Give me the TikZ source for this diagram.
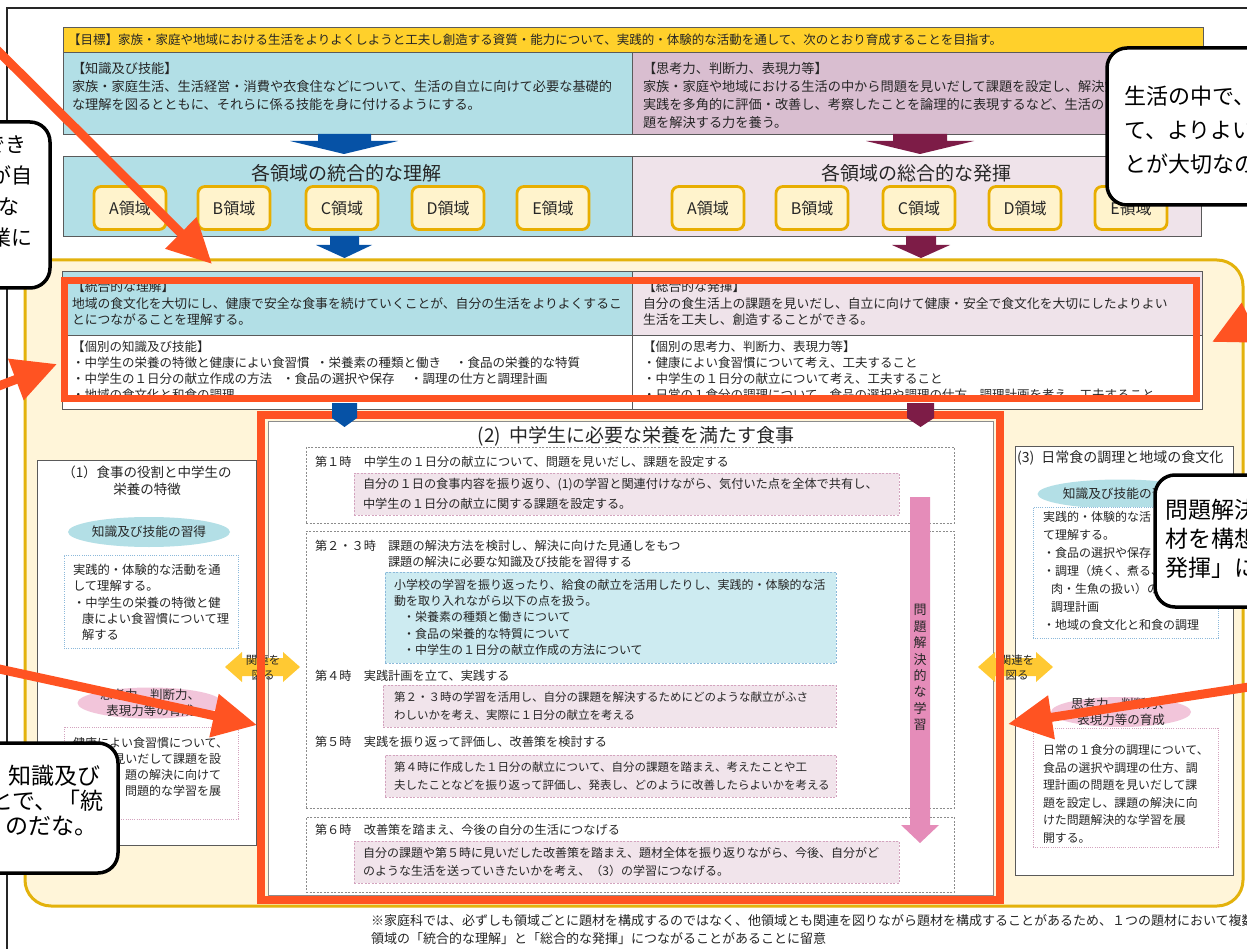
\documentclass[tikz,border=0pt]{standalone}
\usepackage{fontspec}
\setmainfont{Noto Sans CJK JP}
\usetikzlibrary{shapes.geometric,arrows.meta}
\definecolor{goalY}{HTML}{FFD02B}
\definecolor{knowB}{HTML}{B2DFE6}
\definecolor{thinkM}{HTML}{D9BED0}
\definecolor{hakkiP}{HTML}{EFE3EA}
\definecolor{subF}{HTML}{FFF3CC}
\definecolor{subD}{HTML}{E8AE00}
\definecolor{arrB}{HTML}{0652A6}
\definecolor{arrM}{HTML}{7D1C47}
\definecolor{creamF}{HTML}{FFF5D9}
\definecolor{creamD}{HTML}{E3B20C}
\definecolor{redO}{HTML}{FF5322}
\definecolor{pinkF}{HTML}{F1E4EB}
\definecolor{pinkD}{HTML}{D3A3BE}
\definecolor{cyanF}{HTML}{CDEBF1}
\definecolor{cyanD}{HTML}{8CB9DA}
\definecolor{ellB}{HTML}{B3DFE6}
\definecolor{ellP}{HTML}{F2C5DA}
\definecolor{arrP}{HTML}{E58CB9}
\definecolor{dblY}{HTML}{FFC933}
\definecolor{grayD}{HTML}{5A5A5A}
\definecolor{grayL}{HTML}{8C8C8C}
\definecolor{txt}{HTML}{262626}
\newcommand\fz[1]{\fontsize{#1}{#1}\selectfont}
\newcommand\sst{\vrule height .88em depth .12em width 0pt}
\newcommand\TL[7]{\foreach \myt [count=\myi] in {#7}{\node[anchor=#2,inner sep=0pt,outer sep=0pt,font=\fz{#6},text=txt] (#1-\myi) at (#3,{#4+(\myi-1)*(#5)}) {\sst\myt};}}
\newcommand\BX[6]{\node[#6,anchor=north west,inner sep=0pt,outer sep=0pt,minimum width={#4-(#2)},minimum height={#5-(#3)}] (#1) at (#2,#3) {};}
\tikzset{
  cell/.style={draw=grayD,line width=0.8pt},
  sub/.style={draw=subD,fill=subF,line width=2.8pt,rounded corners=7pt,minimum width=72pt,minimum height=43pt,inner sep=0pt,font=\fz{16},text=txt},
  gdash/.style={draw=grayL,line width=0.7pt,dash pattern=on 2pt off 1.5pt,fill=white},
  pbox/.style={fill=pinkF,draw=pinkD,line width=0.7pt,dash pattern=on 2pt off 1.5pt},
  cbox/.style={fill=cyanF,draw=cyanD,line width=0.7pt,dash pattern=on 2pt off 1.5pt},
  cdot/.style={fill=white,draw=cyanD,line width=0.8pt,dash pattern=on 1pt off 1.2pt},
  pdot/.style={fill=white,draw=pinkD,line width=0.8pt,dash pattern=on 1pt off 1.2pt},
  redA/.style={draw=redO,line width=9pt,-{Triangle[length=44pt,width=42pt]}},
  callout/.style={fill=white,draw=black,line width=3.5pt,rounded corners=20pt},
  ctext/.style={inner sep=0pt,text=black}
}
\begin{document}
\begin{tikzpicture}[x=1pt,y=-1pt]
\useasboundingbox (0,0) rectangle (1247,949);
\clip (0,0) rectangle (1247,949);
\fill[white] (0,0) rectangle (1247,949);
% outer frame
\draw[line width=1.3pt,black!85] (7,960) -- (7,8) -- (1260,8);
% goal
\BX{goal}{63}{27}{1203}{52}{fill=goalY,cell}
\TL{goalt}{west}{68}{40}{0}{12.5}{【目標】家族・家庭や地域における生活をよりよくしようと工夫し創造する資質・能力について、実践的・体験的な活動を通して、次のとおり育成することを目指す。}
\BX{know}{63}{52}{632}{134}{fill=knowB,cell}
\BX{think}{632}{52}{1203}{134}{fill=thinkM,cell}
\TL{knowt}{west}{72}{68}{18}{13.2}{【知識及び技能】,家族・家庭生活、生活経営・消費や衣食住などについて、生活の自立に向けて必要な基礎的,な理解を図るとともに、それらに係る技能を身に付けるようにする。}
\TL{thinkt}{west}{643}{68}{18}{13.2}{【思考力、判断力、表現力等】,家族・家庭や地域における生活の中から問題を見いだして課題を設定し、解決策,実践を多角的に評価・改善し、考察したことを論理的に表現するなど、生活の自,題を解決する力を養う。}
% arrows 1
\fill[arrB] (318,134) -- (371,134) -- (371,141) -- (398,141) -- (344,154) -- (290,141) -- (318,141) -- cycle;
\fill[arrM] (893,134) -- (947,134) -- (947,141) -- (974,141) -- (920,154) -- (866,141) -- (893,141) -- cycle;
% domain boxes
\BX{ints}{63}{156}{632}{236}{fill=knowB,cell}
\BX{sogo}{632}{156}{1201}{236}{fill=hakkiP,cell}
\node[inner sep=0pt,font=\fz{19},text=txt] (intst) at (346,173) {\sst 各領域の統合的な理解};
\node[inner sep=0pt,font=\fz{19},text=txt] (sogot) at (916,173) {\sst 各領域の総合的な発揮};
\foreach \ltr/\cx in {A/130,B/234,C/342,D/448,E/553} \node[sub] (l\ltr) at (\cx,208) {\sst\ltr 領域};
\foreach \ltr/\cx in {A/708,B/812,C/919,D/1025,E/1131} \node[sub] (r\ltr) at (\cx,208) {\sst\ltr 領域};
% arrows 2
\fill[arrB] (330,236) -- (359,236) -- (359,245) -- (372,245) -- (344.5,258) -- (316,245) -- (330,245) -- cycle;
\fill[arrM] (906,236) -- (936,236) -- (936,245) -- (950,245) -- (921,258) -- (892,245) -- (906,245) -- cycle;
% cream area
\BX{cream}{25}{260}{1243}{906}{fill=creamF,draw=creamD,line width=3pt,rounded corners=26pt}
% table
\BX{ttl}{62}{271}{632}{335}{fill=knowB,cell}
\BX{ttr}{632}{271}{1202}{335}{fill=hakkiP,cell}
\BX{tbl}{62}{335}{632}{409}{fill=white,cell}
\BX{tbr}{632}{335}{1202}{409}{fill=white,cell}
\TL{ttlt}{west}{72}{287}{16.5}{12.8}{【統合的な理解】,地域の食文化を大切にし、健康で安全な食事を続けていくことが、自分の生活をよりよくするこ,とにつながることを理解する。}
\TL{ttrt}{west}{643}{287}{16.5}{12.8}{【総合的な発揮】,自分の食生活上の課題を見いだし、自立に向けて健康・安全で食文化を大切にしたよりよい,生活を工夫し、創造することができる。}
\TL{tblt}{west}{72}{347}{16}{12.5}{【個別の知識及び技能】,{\makebox[244pt][l]{・中学生の栄養の特徴と健康によい食習慣}\makebox[139pt][l]{・栄養素の種類と働き}・食品の栄養的な特質},{\makebox[210pt][l]{・中学生の１日分の献立作成の方法}\makebox[128pt][l]{・食品の選択や保存}・調理の仕方と調理計画},・地域の食文化と和食の調理}
\TL{tbrt}{west}{643}{347}{16}{12.5}{【個別の思考力、判断力、表現力等】,・健康によい食習慣について考え、工夫すること,・中学生の１日分の献立について考え、工夫すること,・日常の１食分の調理について、食品の選択や調理の仕方、調理計画を考え、工夫すること}
\BX{redt}{64.5}{280.5}{1196.5}{398.5}{draw=redO,line width=7pt}
% left column (1)
\BX{col1}{37}{460}{256}{845}{fill=white,cell}
\TL{c1t}{center}{147}{472}{17}{13.5}{（1）食事の役割と中学生の,栄養の特徴}
\node[ellipse,fill=ellB,minimum width=162pt,minimum height=30pt,inner sep=0pt,font=\fz{12.7},text=txt] (e1b) at (149,532) {\sst 知識及び技能の習得};
\BX{c1b}{64}{555}{238}{648}{cdot}
\TL{c1bt}{west}{73}{570}{16.2}{12.3}{実践的・体験的な活動を通,して理解する。,・中学生の栄養の特徴と健,\hspace*{9pt}康によい食習慣について理,\hspace*{9pt}解する}
\node[ellipse,fill=ellP,minimum width=145pt,minimum height=31pt,inner sep=0pt] (e1p) at (150,703) {};
\TL{e1pt}{center}{150}{695}{16}{12.5}{思考力、判断力、,表現力等の育成}
\BX{c1p}{64}{727}{238}{819}{pdot}
\TL{c1pa}{west}{73}{743}{0}{12}{健康によい食習慣について、}
\TL{c1pb}{east}{221}{759}{15.8}{12}{見いだして課題を設,題の解決に向けて,問題的な学習を展}
% right column (3)
\BX{col3}{1015}{446}{1233}{875}{fill=white,cell}
\node[anchor=west,inner sep=0pt,font=\fz{14},text=txt] (c3t) at (1017,458) {\sst (3)\hspace{7pt}日常食の調理と地域の食文化};
\node[ellipse,fill=ellB,minimum width=165pt,minimum height=29pt,inner sep=0pt,font=\fz{12.7},text=txt] (e3b) at (1120,494) {\sst 知識及び技能の習得};
\BX{c3b}{1033}{507}{1218}{638}{cdot}
\TL{c3bt}{west}{1043}{517}{18}{12}{実践的・体験的な活,て理解する。,・食品の選択や保存,・調理（焼く、煮る、,\hspace*{8pt}肉・生魚の扱い）の,\hspace*{8pt}調理計画,・地域の食文化と和食の調理}
\node[ellipse,fill=ellP,minimum width=140pt,minimum height=30pt,inner sep=0pt] (e3p) at (1121,712) {};
\TL{e3pt}{center}{1121}{704}{16}{12.5}{思考力、判断力、,表現力等の育成}
\BX{c3p}{1033}{728}{1218}{847}{pdot}
\TL{c3pt}{west}{1043}{750}{17.6}{11.9}{日常の１食分の調理について、,食品の選択や調理の仕方、調,理計画の問題を見いだして課,題を設定し、課題の解決に向,けた問題解決的な学習を展,開する。}
% center (2)
\BX{cen}{268}{421}{993}{895}{fill=white,draw=grayL,line width=0.8pt}
\node[inner sep=0pt,font=\fz{19},text=txt] (cent) at (636,436) {\sst(2)\hspace{8pt}中学生に必要な栄養を満たす食事};
\BX{d1}{306}{447}{954}{523}{gdash}
\TL{h1}{west}{315}{462}{0}{12.2}{第１時　中学生の１日分の献立について、問題を見いだし、課題を設定する}
\BX{p1}{354}{473}{899}{515}{pbox}
\TL{p1t}{west}{363}{484.5}{19}{12.2}{自分の１日の食事内容を振り返り、(1)の学習と関連付けながら、気付いた点を全体で共有し、,中学生の１日分の献立に関する課題を設定する。}
\BX{d2}{306}{531}{954}{808}{gdash}
\TL{h23}{west}{315}{546}{0}{12.2}{第２・３時　課題の解決方法を検討し、解決に向けた見通しをもつ}
\TL{h23b}{west}{388}{562}{0}{12.2}{課題の解決に必要な知識及び技能を習得する}
\BX{b23}{385}{572}{836}{663}{cbox}
\TL{b23t}{west}{394}{585}{16.2}{12}{小学校の学習を振り返ったり、給食の献立を活用したりし、実践的・体験的な活,動を取り入れながら以下の点を扱う。,\hspace*{9pt}・栄養素の種類と働きについて,\hspace*{9pt}・食品の栄養的な特質について,\hspace*{9pt}・中学生の１日分の献立作成の方法について}
\TL{h4}{west}{315}{676}{0}{12.2}{第４時　実践計画を立て、実践する}
\BX{p4}{383}{685}{836}{727}{pbox}
\TL{p4t}{west}{394}{697}{18}{11.5}{第２・３時の学習を活用し、自分の課題を解決するためにどのような献立がふさ,わしいかを考え、実際に１日分の献立を考える}
\TL{h5}{west}{315}{742}{0}{12.2}{第５時　実践を振り返って評価し、改善策を検討する}
\BX{p5}{385}{755}{836}{797}{pbox}
\TL{p5t}{west}{394}{767}{18}{11.5}{第４時に作成した１日分の献立について、自分の課題を踏まえ、考えたことや工,夫したことなどを振り返って評価し、発表し、どのように改善したらよいかを考える}
\BX{d3}{306}{817}{954}{892}{gdash}
\TL{h6}{west}{315}{830}{0}{12.2}{第６時　改善策を踏まえ、今後の自分の生活につなげる}
\BX{p6}{354}{841}{899}{883}{pbox}
\TL{p6t}{west}{363}{853}{18}{12}{自分の課題や第５時に見いだした改善策を踏まえ、題材全体を振り返りながら、今後、自分がど,のような生活を送っていきたいかを考え、（3）の学習につなげる。}
% pink vertical arrow
\fill[arrP] (910,497) -- (930,497) -- (930,825) -- (939,825) -- (920,843) -- (901,825) -- (910,825) -- cycle;
\TL{vt}{center}{920}{610}{16.4}{13}{問,題,解,決,的,な,学,習}
% double arrows
\fill[dblY] (225,667) -- (242,652) -- (242,658) -- (283,658) -- (283,652) -- (300,667) -- (283,682) -- (283,676) -- (242,676) -- (242,682) -- cycle;
\TL{dbl1}{center}{263}{660}{15}{11.5}{関連を,図る}
\fill[dblY] (978,667) -- (995,652) -- (995,658) -- (1036,658) -- (1036,652) -- (1053,667) -- (1036,682) -- (1036,676) -- (995,676) -- (995,682) -- cycle;
\TL{dbl3}{center}{1017}{660}{15}{11.5}{関連を,図る}
% red frame center
\BX{redc}{261}{415}{1000}{900}{draw=redO,line width=8pt}
% small arrows
\fill[arrB] (332,403) -- (357,403) -- (357,418) -- (344.5,427) -- (332,418) -- cycle;
\fill[arrM] (907,403) -- (934,403) -- (934,418) -- (920.5,427) -- (907,418) -- cycle;
% red arrows
\coordinate (r1a) at (-10,43); \coordinate (r1b) at (212,264);
\coordinate (r2a) at (-12,390); \coordinate (r2b) at (57,364);
\coordinate (r3a) at (-10,667); \coordinate (r3b) at (257,725);
\coordinate (r4a) at (1265,316); \coordinate (r4b) at (1212,342);
\coordinate (r5a) at (1262,685); \coordinate (r5b) at (1008,724);
\draw[redA] (r1a) -- (r1b);
\draw[redA] (r2a) -- (r2b);
\draw[redA] (r3a) -- (r3b);
\draw[redA] (r4a) -- (r4b);
\draw[redA] (r5a) -- (r5b);
% callouts
\BX{cTL}{-40}{122}{50}{288}{callout}
\node[ctext,anchor=east,font=\fz{21}] (cTL1) at (27,145) {\sst でき};
\node[ctext,anchor=east,font=\fz{21}] (cTL2) at (33,176) {\sst が自};
\node[ctext,anchor=east,font=\fz{21}] (cTL3) at (20,207) {\sst な};
\node[ctext,anchor=east,font=\fz{21}] (cTL4) at (33,238) {\sst 業に};
\BX{cTR}{1107}{48}{1290}{205}{callout}
\node[ctext,anchor=west,font=\fz{22}] (cTR1) at (1124,96) {\sst 生活の中で、};
\node[ctext,anchor=west,font=\fz{22}] (cTR2) at (1124,130) {\sst て、よりよい生};
\node[ctext,anchor=west,font=\fz{22}] (cTR3) at (1124,164) {\sst とが大切なの};
\BX{cMR}{1155}{475}{1290}{607}{callout}
\node[ctext,anchor=west,font=\fz{23}] (cMR1) at (1165,510) {\sst 問題解決};
\node[ctext,anchor=west,font=\fz{23}] (cMR2) at (1165,539) {\sst 材を構想};
\node[ctext,anchor=west,font=\fz{23}] (cMR3) at (1165,568) {\sst 発揮」に};
\BX{cBL}{-40}{743}{118}{873}{callout}
\node[ctext,anchor=east,font=\fz{23}] (cBL1) at (101,776) {\sst 知識及び};
\node[ctext,anchor=east,font=\fz{23}] (cBL2) at (104,801) {\sst ことで、「統};
\node[ctext,anchor=east,font=\fz{23}] (cBL3) at (98,826) {\sst くのだな。};
% note
\TL{note}{west}{371}{921}{18}{13}{※家庭科では、必ずしも領域ごとに題材を構成するのではなく、他領域とも関連を図りながら題材を構成することがあるため、１つの題材において複数の,領域の「統合的な理解」と「総合的な発揮」につながることがあることに留意}
\end{tikzpicture}
\end{document}
